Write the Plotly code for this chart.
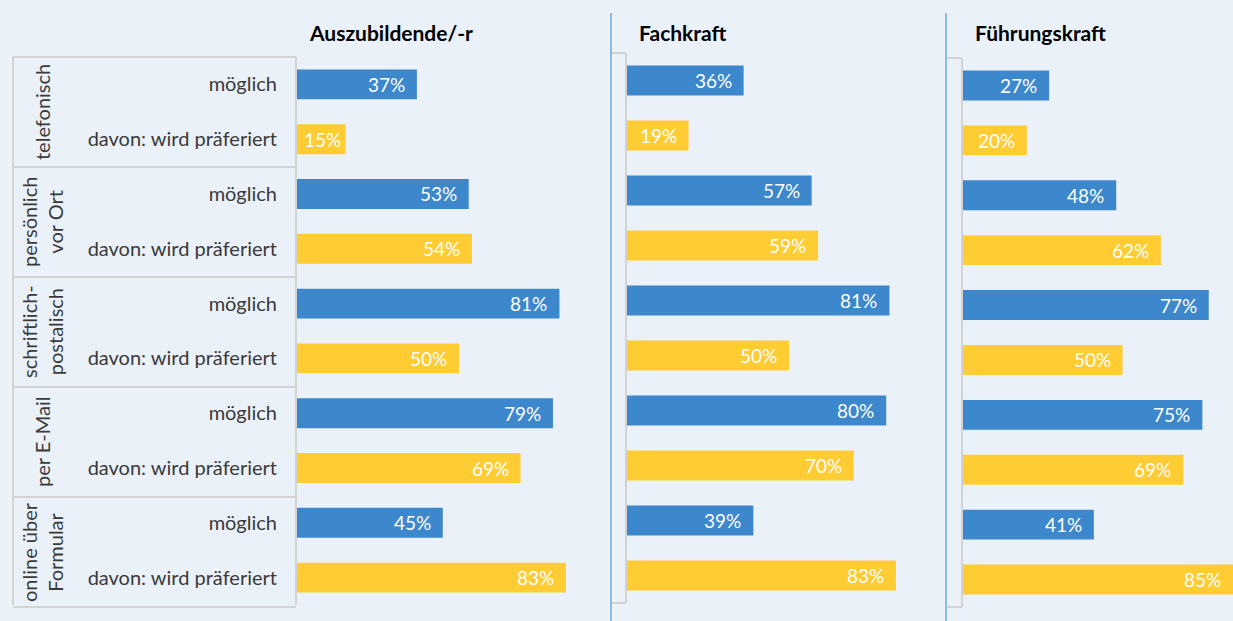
import plotly.graph_objects as go

W, H = 1233, 621

panels = ["Auszubildende/-r", "Fachkraft", "Führungskraft"]
groups = ["telefonisch", "persönlich<br>vor Ort", "schriftlich-<br>postalisch",
          "per E-Mail", "online über<br>Formular"]
row_labels = ["möglich", "davon: wird präferiert"]

moeglich = {
    "Auszubildende/-r": [37, 53, 81, 79, 45],
    "Fachkraft": [36, 57, 81, 80, 39],
    "Führungskraft": [27, 48, 77, 75, 41],
}
praeferiert = {
    "Auszubildende/-r": [15, 54, 50, 69, 83],
    "Fachkraft": [19, 59, 50, 70, 83],
    "Führungskraft": [20, 62, 50, 69, 85],
}

BLUE = "#3d87cd"
YELLOW = "#ffcc33"
BG = "#eaf1f9"
GRAY = "#d3d3d3"
SEP = "#6fa8dc"
FONT = "Lato"

def px(x):
    return x / W

def py(y):
    return 1 - y / H

# layout geometry in pixels
x_dom = [(297, 621), (627, 951), (963, 1233)]
x_rng = [(0, 100), (0, 100), (0, 84.6)]
y_dom = [(57, 605), (53, 603), (58, 607)]

fig = go.Figure()
n = len(groups)
pos_m = [2 * i for i in range(n)]
pos_p = [2 * i + 1 for i in range(n)]

annotations = []
for k, p in enumerate(panels):
    xa = "x" if k == 0 else f"x{k+1}"
    ya = "y" if k == 0 else f"y{k+1}"
    fig.add_trace(go.Bar(x=moeglich[p], y=pos_m, orientation="h", width=0.545,
                         marker=dict(color=BLUE, line=dict(width=0)),
                         xaxis=xa, yaxis=ya, showlegend=False, hoverinfo="skip"))
    fig.add_trace(go.Bar(x=praeferiert[p], y=pos_p, orientation="h", width=0.545,
                         marker=dict(color=YELLOW, line=dict(width=0)),
                         xaxis=xa, yaxis=ya, showlegend=False, hoverinfo="skip"))
    for vals, pos in ((moeglich[p], pos_m), (praeferiert[p], pos_p)):
        for v, yv in zip(vals, pos):
            xv = min(v, x_rng[k][1])
            annotations.append(dict(x=xv, y=yv, xref=xa, yref=ya, text=f"{v}%",
                                    showarrow=False, xanchor="right", yanchor="middle",
                                    xshift=-10 if v >= 18 else -3,
                                    font=dict(family=FONT, size=19, color="white")))
    # panel title
    annotations.append(dict(x=px(x_dom[k][0] + 10), y=py(32), xref="paper", yref="paper",
                            text=f"<b>{p}</b>", showarrow=False, xanchor="left",
                            yanchor="middle", font=dict(family=FONT, size=21, color="#000000")))

layout_axes = {}
for k in range(3):
    xkey = "xaxis" if k == 0 else f"xaxis{k+1}"
    ykey = "yaxis" if k == 0 else f"yaxis{k+1}"
    ya_anchor = "y" if k == 0 else f"y{k+1}"
    xa_anchor = "x" if k == 0 else f"x{k+1}"
    layout_axes[xkey] = dict(domain=[px(x_dom[k][0]), px(x_dom[k][1])], range=list(x_rng[k]),
                             anchor=ya_anchor, showgrid=False, zeroline=False,
                             showticklabels=False, showline=False, fixedrange=True)
    ydict = dict(domain=[py(y_dom[k][1]), py(y_dom[k][0])], range=[2 * n - 0.5, -0.5],
                 anchor=xa_anchor, showgrid=False, zeroline=False, showline=False,
                 fixedrange=True)
    if k == 0:
        ydict.update(tickvals=list(range(2 * n)), ticktext=row_labels * n,
                     ticks="", ticklabelstandoff=19,
                     tickfont=dict(family=FONT, size=20, color="#3a3a3a"))
    else:
        ydict.update(showticklabels=False)
    layout_axes[ykey] = ydict

# group labels
for i, g in enumerate(groups):
    yc = 57 + 110 * i + 55
    annotations.append(dict(x=px(42), y=py(yc), xref="paper", yref="paper", text=g,
                            showarrow=False, textangle=-90, xanchor="center", yanchor="middle",
                            font=dict(family=FONT, size=20, color="#3a3a3a")))

shapes = []
def line(x0, y0, x1, y1, color, width):
    shapes.append(dict(type="line", xref="paper", yref="paper",
                       x0=px(x0), y0=py(y0), x1=px(x1), y1=py(y1),
                       line=dict(color=color, width=width)))

# label table
line(13, 57, 296, 57, GRAY, 2)
line(13, 57, 13, 605, GRAY, 2)
line(296, 57, 296, 605, GRAY, 2)
for i in range(1, 6):
    line(13, 57 + 110 * i, 296, 57 + 110 * i, GRAY, 2)
# panel separators
line(611, 13, 611, 621, SEP, 1.5)
line(946, 13, 946, 621, SEP, 1.5)
# brackets panel 2 and 3
line(612, 53, 626, 53, GRAY, 2)
line(626, 53, 626, 603, GRAY, 2)
line(612, 603, 626, 603, GRAY, 2)
line(947, 58, 962, 58, GRAY, 2)
line(962, 58, 962, 607, GRAY, 2)
line(947, 607, 962, 607, GRAY, 2)

fig.update_layout(width=W, height=H, margin=dict(l=0, r=0, t=0, b=0),
                  paper_bgcolor=BG, plot_bgcolor=BG, barmode="overlay",
                  annotations=annotations, shapes=shapes, **layout_axes)

fig.write_html("out.html", config={"displayModeBar": False},
               post_script="document.body.style.margin='0';document.body.style.overflow='hidden';")
